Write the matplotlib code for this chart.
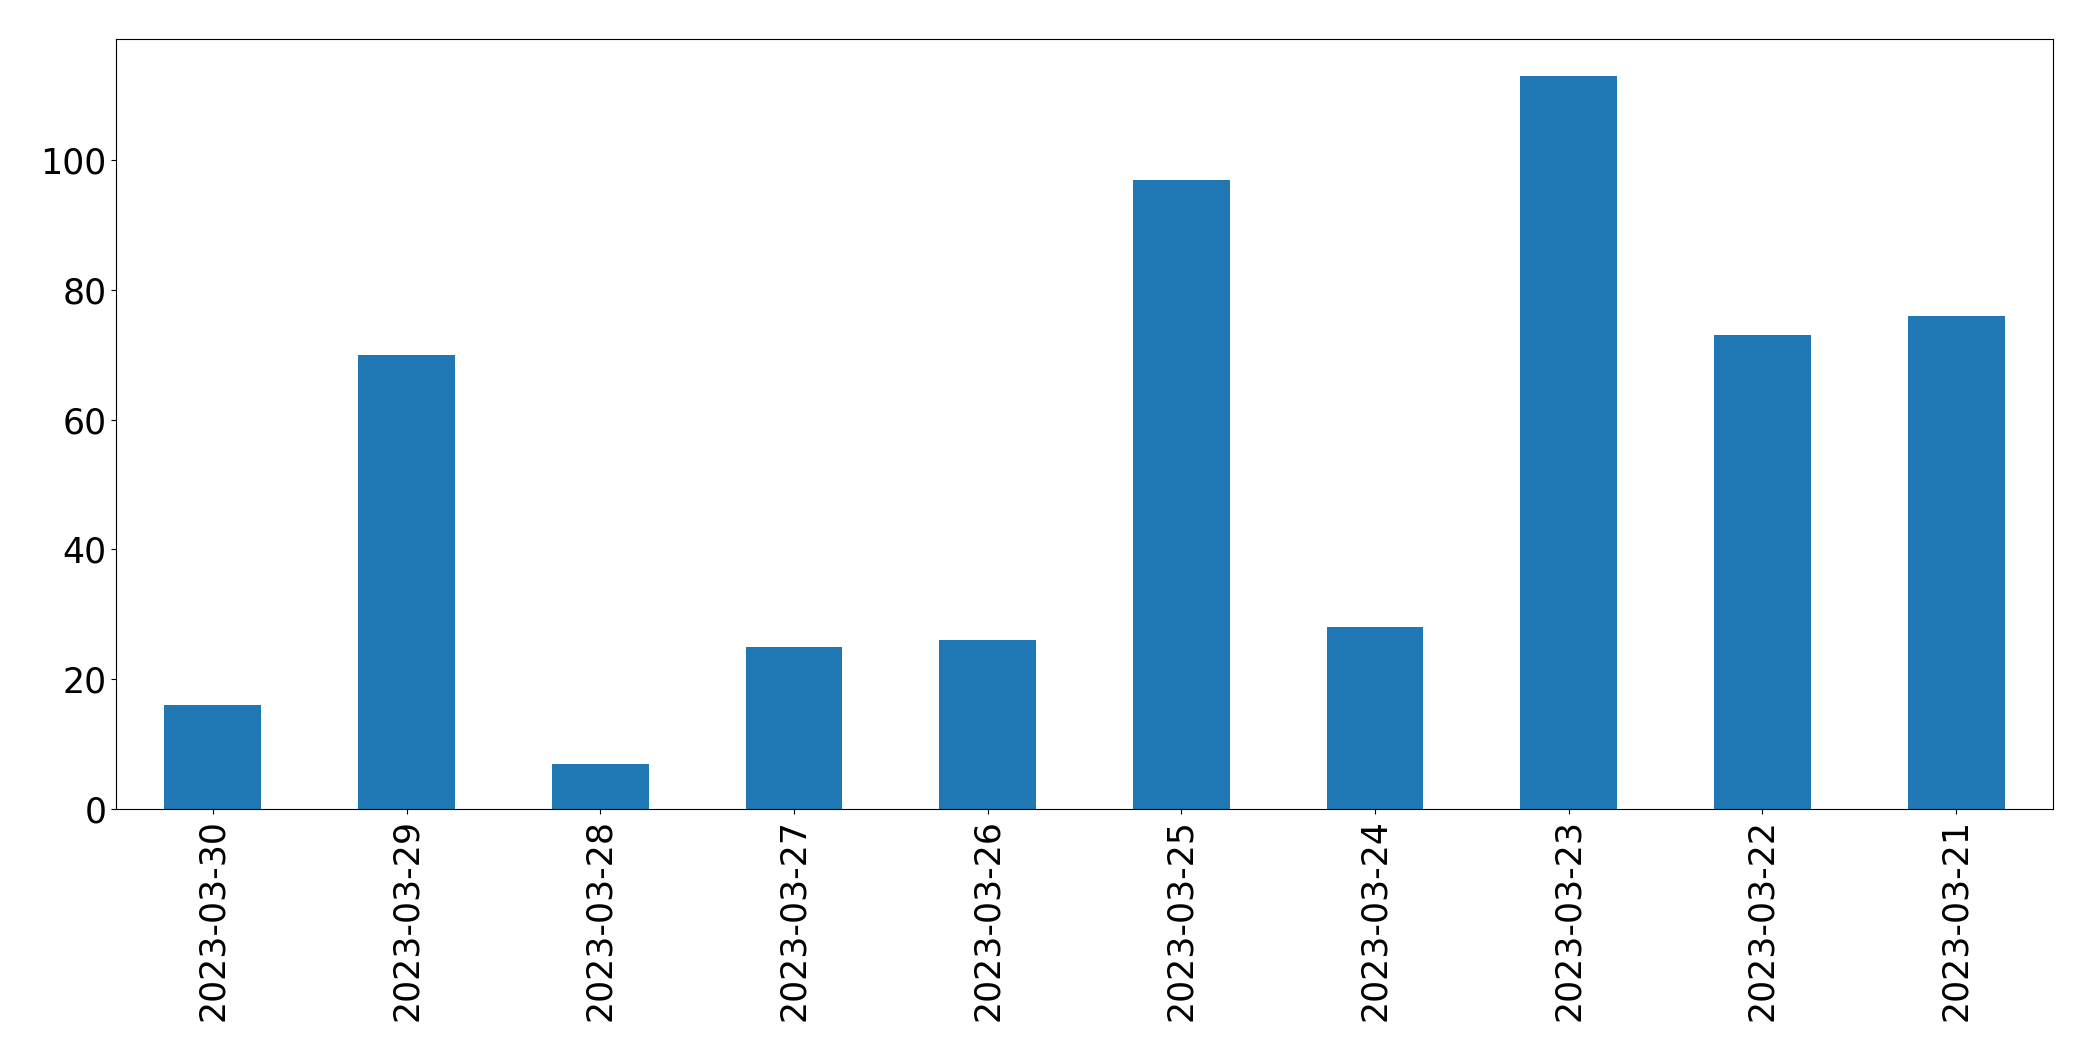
import matplotlib
matplotlib.use("Agg")
import matplotlib.pyplot as plt
import pandas as pd

# dates and counts
dates = ["2023-03-30", "2023-03-29", "2023-03-28", "2023-03-27", "2023-03-26",
         "2023-03-25", "2023-03-24", "2023-03-23", "2023-03-22", "2023-03-21"]
counts = [16, 70, 7, 25, 26, 97, 28, 113, 73, 76]

s = pd.Series(counts, index=dates)

fig = plt.figure(figsize=(20.93, 10.61), dpi=100)
ax = fig.add_axes([116 / 2093, 1 - 809 / 1061, (2053 - 116) / 2093, (809 - 39) / 1061])
s.plot(kind="bar", ax=ax, color="#1f77b4", fontsize=25)
ax.tick_params(axis="both", labelsize=25)

fig.savefig("out.png", dpi=100)
